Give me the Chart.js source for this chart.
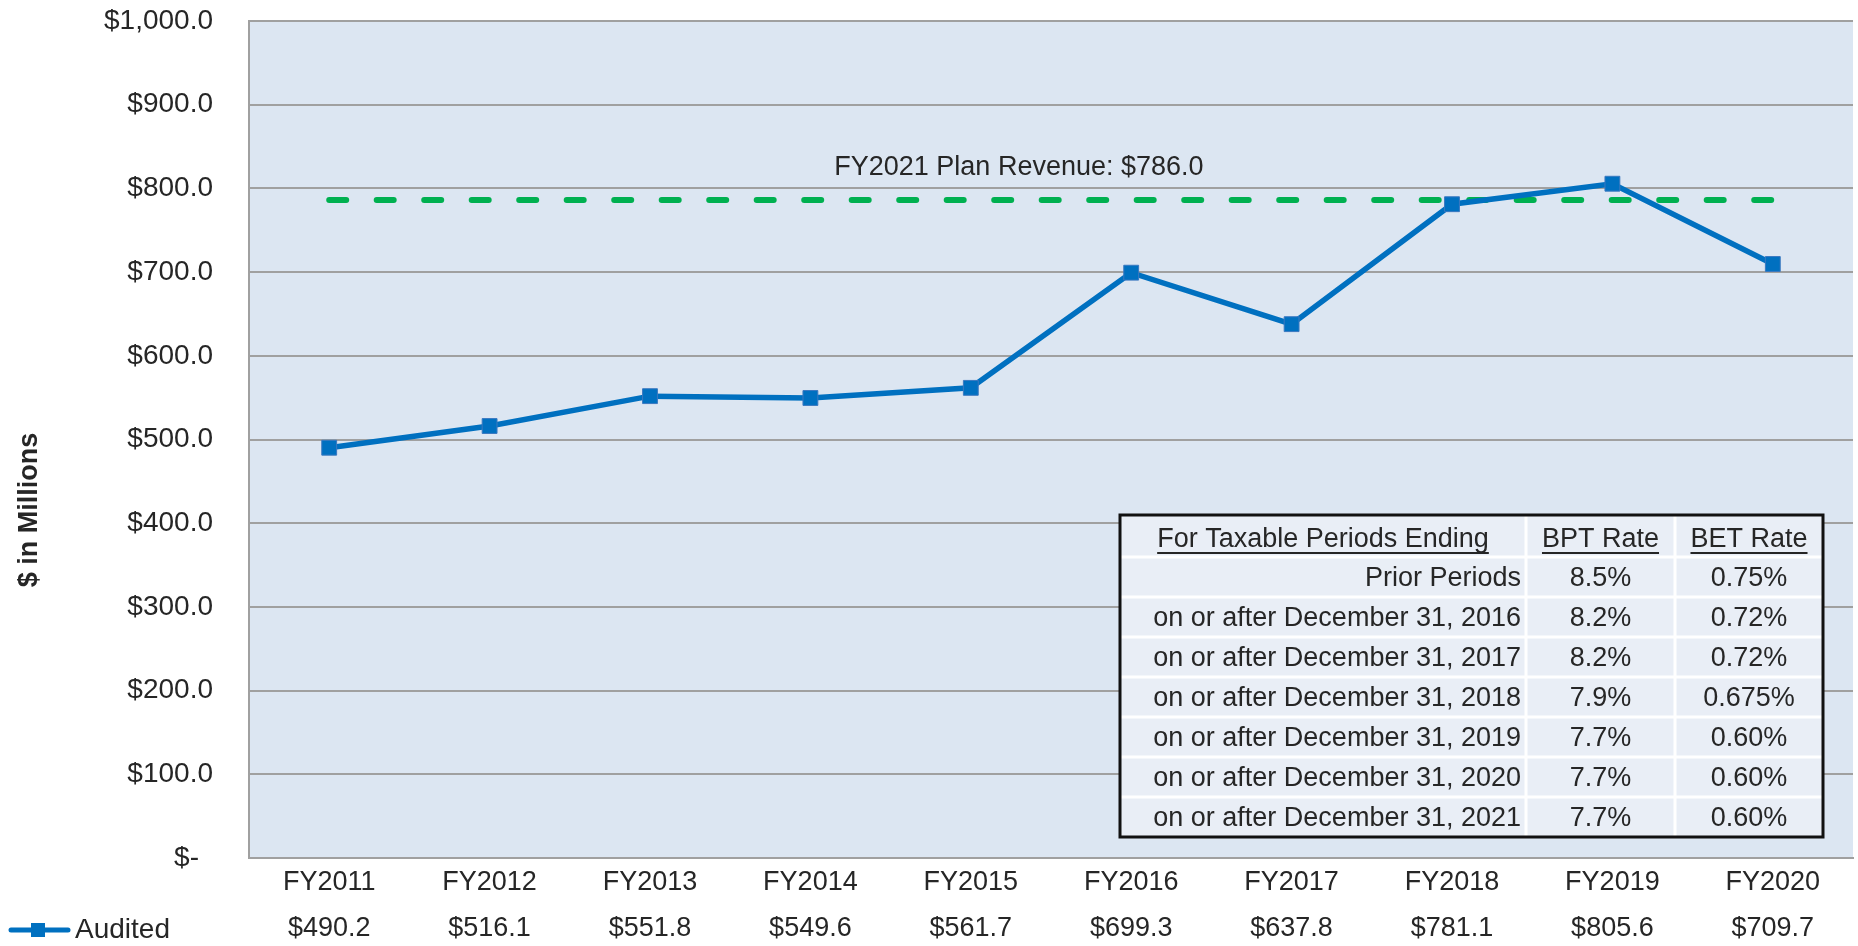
<!DOCTYPE html>
<html>
<head>
<meta charset="utf-8">
<title>Audited Revenue</title>
<script src="https://cdn.jsdelivr.net/npm/chart.js@4.4.1/dist/chart.umd.min.js"></script>
<style>
  html, body { margin: 0; padding: 0; background: #fff; }
</style>
</head>
<body>
<canvas id="revChart" width="1858" height="946"></canvas>
<script>
// chart data
const years = ['FY2011', 'FY2012', 'FY2013', 'FY2014', 'FY2015', 'FY2016', 'FY2017', 'FY2018', 'FY2019', 'FY2020'];
const audited = [490.2, 516.1, 551.8, 549.6, 561.7, 699.3, 637.8, 781.1, 805.6, 709.7];
const planRevenue = 786.0;
const planLabel = 'FY2021 Plan Revenue: $786.0';
const yMin = 0, yMax = 1000, yStep = 100;

// rate table
const rateHeaders = ['For Taxable Periods Ending', 'BPT Rate', 'BET Rate'];
const ratePeriods = ['Prior Periods', 'on or after December 31, 2016', 'on or after December 31, 2017',
    'on or after December 31, 2018', 'on or after December 31, 2019', 'on or after December 31, 2020',
    'on or after December 31, 2021'];
const bptRates = ['8.5%', '8.2%', '8.2%', '7.9%', '7.7%', '7.7%', '7.7%'];
const betRates = ['0.75%', '0.72%', '0.72%', '0.675%', '0.60%', '0.60%', '0.60%'];

const FONT = "'Liberation Sans', Arial, sans-serif";
const TEXT = '#262626';
const BLUE = '#0070C0';
const GREEN = '#00B050';

function money(v) {
    if (v === 0) return '$-\u2002';
    return '$' + v.toLocaleString('en-US', { minimumFractionDigits: 1, maximumFractionDigits: 1 });
}

// plot background
const plotBg = {
    id: 'plotBg',
    beforeDraw(chart) {
        const a = chart.chartArea, ctx = chart.ctx;
        ctx.save();
        ctx.fillStyle = '#dce6f2';
        ctx.fillRect(a.left, a.top, a.right - a.left, a.bottom - a.top);
        ctx.restore();
    }
};

// plan label, axis title, legend key
const extras = {
    id: 'extras',
    afterDraw(chart) {
        const ctx = chart.ctx, x = chart.scales.x, y = chart.scales.y;
        ctx.save();
        ctx.fillStyle = TEXT;
        ctx.font = '27px ' + FONT;
        ctx.textAlign = 'center';
        ctx.textBaseline = 'middle';
        ctx.fillText(planLabel, x.getPixelForValue(4.3), y.getPixelForValue(planRevenue) - 33);

        // y title
        ctx.save();
        ctx.translate(30, 510);
        ctx.rotate(-Math.PI / 2);
        ctx.font = 'bold 27px ' + FONT;
        ctx.fillText('$ in Millions', 0, 0);
        ctx.restore();

        // legend key
        const ly = 930;
        ctx.strokeStyle = BLUE;
        ctx.lineWidth = 5;
        ctx.lineCap = 'round';
        ctx.beginPath();
        ctx.moveTo(11, ly);
        ctx.lineTo(68, ly);
        ctx.stroke();
        ctx.fillStyle = BLUE;
        ctx.fillRect(31, ly - 7, 14, 14);
        ctx.fillStyle = TEXT;
        ctx.font = '28px ' + FONT;
        ctx.textAlign = 'left';
        ctx.fillText('Audited', 75, ly);
        ctx.restore();
    }
};

// rate table inside the plot
const rateTable = {
    id: 'rateTable',
    afterDatasetsDraw(chart) {
        const ctx = chart.ctx, a = chart.chartArea;
        const colW = [406, 149, 148];
        const headH = 42, rowH = 40;
        const w = colW[0] + colW[1] + colW[2];
        const h = headH + rowH * ratePeriods.length;
        const right = a.right - 30, bottom = a.bottom - 21;
        const left = right - w, top = bottom - h;
        ctx.save();
        ctx.fillStyle = '#e9eef6';
        ctx.fillRect(left, top, w, h);
        // white cell lines
        ctx.strokeStyle = '#ffffff';
        ctx.lineWidth = 3;
        ctx.beginPath();
        for (let i = 0; i < ratePeriods.length; i++) {
            const yy = top + headH + rowH * i;
            ctx.moveTo(left, yy);
            ctx.lineTo(right, yy);
        }
        ctx.moveTo(left + colW[0], top);
        ctx.lineTo(left + colW[0], bottom);
        ctx.moveTo(left + colW[0] + colW[1], top);
        ctx.lineTo(left + colW[0] + colW[1], bottom);
        ctx.stroke();
        // outer border
        ctx.strokeStyle = '#111111';
        ctx.lineWidth = 3;
        ctx.strokeRect(left, top, w, h);

        ctx.fillStyle = TEXT;
        ctx.font = '27px ' + FONT;
        ctx.textBaseline = 'middle';
        ctx.textAlign = 'center';
        // headers
        let cx = left;
        rateHeaders.forEach(function(t, i) {
            const mid = cx + colW[i] / 2;
            const ty = top + headH / 2 + 4;
            ctx.fillText(t, mid, ty);
            const tw = ctx.measureText(t).width;
            ctx.fillRect(mid - tw / 2, ty + 12, tw, 2);
            cx += colW[i];
        });
        // rows
        ratePeriods.forEach(function(p, i) {
            const ty = top + headH + rowH * i + rowH / 2 + 2;
            ctx.textAlign = 'right';
            ctx.fillText(p, left + colW[0] - 5, ty);
            ctx.textAlign = 'center';
            ctx.fillText(bptRates[i], left + colW[0] + colW[1] / 2, ty);
            ctx.fillText(betRates[i], left + colW[0] + colW[1] + colW[2] / 2, ty);
        });
        ctx.restore();
    }
};

const data = {
    labels: years,
    datasets: [{
        label: 'Audited',
        data: audited,
        borderColor: BLUE,
        backgroundColor: BLUE,
        borderWidth: 5.5,
        pointStyle: 'rect',
        pointRadius: 10.5,
        pointHoverRadius: 10.5,
        pointBorderColor: '#3a78c0',
        pointBorderWidth: 1,
        tension: 0,
        order: 1
    }, {
        label: 'FY2021 Plan',
        data: [{ x: years[0], y: planRevenue }, { x: years[years.length - 1], y: planRevenue }],
        borderColor: GREEN,
        borderWidth: 6,
        borderDash: [17, 30.5],
        borderCapStyle: 'round',
        pointRadius: 0,
        order: 2
    }]
};

const config = {
    type: 'line',
    data: data,
    plugins: [plotBg, rateTable, extras],
    options: {
        responsive: false,
        animation: false,
        layout: { autoPadding: false, padding: { top: 21, right: 5, left: 0, bottom: 0 } },
        plugins: {
            legend: { display: false },
            tooltip: { enabled: false }
        },
        scales: {
            x: {
                offset: true,
                grid: { display: false, drawTicks: false },
                border: { display: true, color: '#a0a0a0', width: 2 },
                afterFit: function(s) { s.height = 88; s.paddingLeft = 0; s.paddingRight = 0; },
                ticks: {
                    color: TEXT,
                    padding: 2,
                    maxRotation: 0,
                    font: { family: FONT, size: 27, lineHeight: 1.7 },
                    callback: function(v, i) { return [years[i], money(audited[i])]; }
                }
            },
            y: {
                min: yMin,
                max: yMax,
                grid: { color: '#a0a0a0', lineWidth: 2, drawTicks: false },
                border: { display: true, color: '#a0a0a0', width: 2 },
                afterFit: function(s) { s.width = 249; s.paddingTop = 0; s.paddingBottom = 0; },
                ticks: {
                    stepSize: yStep,
                    color: TEXT,
                    padding: 36,
                    font: { family: FONT, size: 28 },
                    callback: function(v) { return money(v); }
                }
            }
        }
    }
};

var revChart = new Chart(document.getElementById('revChart'), config);
</script>
</body>
</html>
